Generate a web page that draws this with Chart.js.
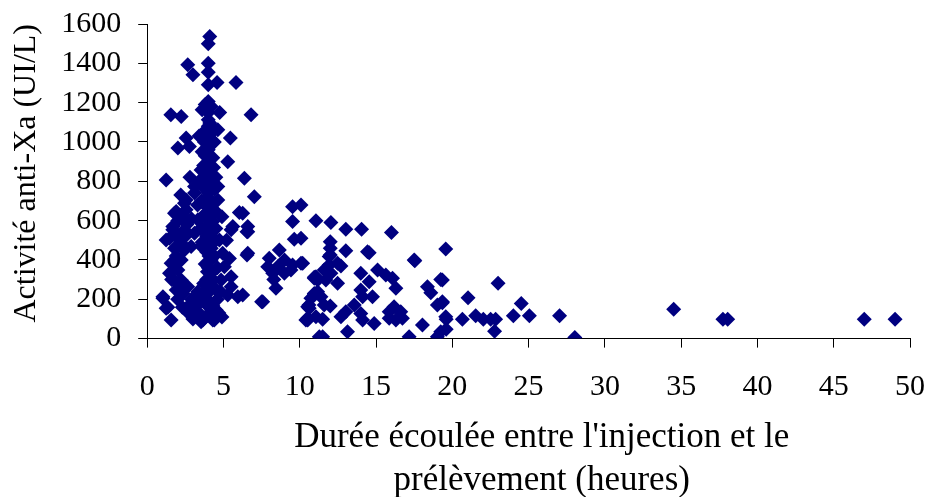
<!DOCTYPE html>
<html>
<head>
<meta charset="utf-8">
<script src="https://cdn.jsdelivr.net/npm/chart.js"></script>
<style>
  body { margin: 0; background: #fff; }
  #wrap { width: 928px; height: 497px; }
</style>
</head>
<body>
<div id="wrap"><canvas id="scatterChart"></canvas></div>
<script>
// time between injection and sampling (hours) / anti-Xa activity (UI/L)
const durationHours = [
  4.1, 4.0, 2.66, 4.0, 3.0, 4.0, 4.0, 4.58, 5.82, 4.0, 3.8, 4.2, 1.55, 2.23, 3.6, 4.75, 6.81, 4.0, 4.1, 4.3,
  3.86, 4.63, 4.0, 2.55, 5.45, 3.9, 4.2, 2.01, 2.77, 4.0, 3.8, 4.3, 5.28, 4.0, 3.53, 4.1, 3.9, 1.24, 6.37, 4.2,
  3.1, 4.63, 3.8, 4.0, 3.1, 7.02, 2.55, 4.63, 3.7, 4.2, 2.44, 3.9, 2.55, 1.9, 6.04, 1.79, 4.1, 3.6, 3.32, 4.3,
  4.0, 1.68, 5.61, 6.59, 3.8, 1.68, 5.5, 6.59, 3.1, 4.2, 2.44, 3.9, 1.46, 1.24, 2.12, 4.08, 4.73, 3.6, 2.88, 1.79,
  2.44, 4.2, 3.9, 4.95, 6.59, 6.54, 5.39, 2.23, 4.19, 1.57, 3.8, 5.06, 2.01, 4.0, 1.46, 4.19, 5.5,
  3.9, 2.23, 4.84, 2.66, 5.5, 4.1, 1.9, 3.32, 2.34, 5.28, 6.26, 1.03, 5.94, 1.03, 3.97, 7.5, 2.77, 1.24, 1.35, 3.1,
  4.52, 3.53, 4.4, 3.65, 1.57, 3.53, 4.3, 2.9, 3.7, 2.2, 4.6, 4.8, 2.7, 3.3, 4.9, 2.0, 4.3, 4.6, 2.5,
  2.0, 2.9, 4.9, 3.3, 2.2, 4.5, 3.4, 2.8, 4.4, 3.6, 4.5, 2.6, 1.9, 1.6, 5.2, 3.4, 6.26, 6.54,
  4.0, 4.0, 3.95, 4.05, 3.95, 4.05, 3.95, 4.05, 3.95, 4.05, 3.95, 4.05, 3.95, 4.05, 3.95, 4.05, 3.95, 3.75, 4.25, 3.7,
  4.35, 3.6, 4.4, 3.55, 4.45, 3.5, 4.5, 3.55, 4.4, 4.3, 3.7, 4.5, 3.4, 2.4, 2.0, 2.3, 1.8, 1.7, 3.2, 4.7,
  3.0, 2.3,
  7.9, 8.0, 8.23, 8.55, 8.66, 8.99, 9.42, 8.44, 9.53, 10.08, 9.53, 9.64, 10.08, 10.08, 11.06, 10.95, 10.95, 10.62, 10.52, 11.28,
  12.04, 13.02, 14.05, 16.01, 17.54, 12.0, 12.0, 12.0, 13.02, 14.55, 12.7, 10.19, 10.95, 11.6, 12.04, 11.71, 12.48, 11.17, 10.73, 10.52,
  10.52, 11.5, 12.0, 11.5, 12.7, 13.02, 13.13, 14.0, 14.55, 14.0, 14.12, 14.77, 13.57, 14.0, 14.12, 14.88, 15.1, 15.64, 16.08, 16.3,
  15.86, 16.18, 16.62, 16.73, 16.3, 15.86, 17.17, 18.04, 18.37, 18.59, 19.24, 19.02, 19.35, 19.57, 19.24, 19.02, 10.4, 11.06, 10.6, 19.57,
  9.0, 8.3, 7.57, 9.53, 11.06, 10.95, 11.39, 11.6, 11.93, 11.93, 12.48, 11.17, 14.44, 17.5,
  19.35, 19.35, 19.6, 19.6, 21.03, 20.66, 21.53, 22.03, 22.51, 22.84, 22.77, 23.0, 24.0, 24.52, 25.05, 27.03, 28.03,
  34.51, 37.74, 38.05, 47.0, 49.02
];
const antiXa = [
  1537, 1500, 1393, 1400, 1342, 1355, 1291, 1303, 1303, 1206, 1190, 1180, 1138, 1130, 1164, 1150, 1138, 1113, 1096, 1075,
  1062, 1062, 1040, 1020, 1020, 1010, 990, 969, 977, 960, 930, 920, 900, 890, 858, 860, 830, 807, 816, 800,
  773, 773, 760, 740, 740, 722, 705, 705, 700, 690, 689, 670, 655, 646, 641, 638, 640, 620, 604, 595,
  580, 570, 570, 570, 560, 553, 553, 544, 536, 540, 553, 520, 510, 502, 502, 502, 502, 490, 468, 459,
  451, 460, 440, 434, 434, 425, 408, 400, 400, 383, 380, 366, 349, 360, 332, 332, 315,
  300, 298, 298, 264, 264, 260, 247, 238, 230, 222, 222, 213, 213, 205, 196, 188, 171, 154, 160, 145,
  145, 120, 94, 94, 94, 86, 94, 200, 230, 270, 200, 240, 130, 110, 110, 200, 170, 360, 520,
  600, 610, 620, 680, 730, 820, 800, 820, 1000, 950, 500, 580, 420, 300, 500, 1030, 638, 544,
  1150, 1080, 1000, 920, 850, 780, 720, 650, 610, 530, 470, 420, 340, 280, 230, 160, 120, 1000, 1050, 880,
  870, 800, 760, 700, 650, 560, 560, 470, 420, 300, 280, 250, 180, 620, 520, 480, 400, 300, 200, 130,
  100, 160,
  366, 409, 332, 366, 451, 332, 349, 256, 671, 680, 595, 505, 383, 510, 600, 307, 222, 154, 103, 9,
  590, 556, 556, 539, 396, 493, 459, 425, 447, 437, 369, 383, 312, 349, 332, 298, 281, 238, 205, 162,
  94, 98, 166, 9, 111, 137, 35, 332, 289, 247, 213, 213, 171, 128, 94, 77, 349, 323, 307, 256,
  137, 162, 137, 103, 94, 103, 9, 69, 264, 233, 301, 171, 187, 111, 35, 9, 94, 111, 171, 456,
  400, 300, 188, 374, 315, 230, 213, 171, 417, 374, 383, 298, 442, 400,
  298, 182, 99, 48, 208, 98, 116, 98, 98, 98, 38, 281, 116, 179, 116, 116, 6,
  149, 98, 98, 98, 98
];
const xTicks = [0, 5, 10, 15, 20, 25, 30, 35, 40, 45, 50];
const yTicks = [0, 200, 400, 600, 800, 1000, 1200, 1400, 1600];

const points = durationHours.map((h, i) => ({ x: h, y: antiXa[i] }));

const serif = "'Liberation Serif', 'Times New Roman', serif";
const tickFont = { family: serif, size: 30, lineHeight: 1.2 };

new Chart(document.getElementById('scatterChart').getContext('2d'), {
  type: 'scatter',
  data: {
    datasets: [{
      data: points,
      pointStyle: 'rectRot',
      pointRadius: 7.5,
      backgroundColor: '#000080',
      borderWidth: 0
    }]
  },
  options: {
    responsive: true,
    maintainAspectRatio: false,
    animation: false,
    layout: { padding: { left: 0, right: 18, top: 24, bottom: 0 } },
    plugins: { legend: { display: false }, tooltip: { enabled: false } },
    scales: {
      x: {
        type: 'linear',
        min: 0, max: 50,
        afterBuildTicks: (axis) => { axis.ticks = xTicks.map(v => ({ value: v })); },
        afterFit: (axis) => { axis.paddingLeft = 0; axis.paddingRight = 0; },
        grid: { drawOnChartArea: false, drawTicks: true, tickLength: 9, color: '#000' },
        border: { display: true, color: '#000', width: 1 },
        ticks: { color: '#000', font: tickFont, padding: 22, maxRotation: 0, autoSkip: false, callback: v => String(v) },
        title: {
          display: true,
          text: ["   Durée écoulée entre l'injection et le", '   prélèvement (heures)'],
          color: '#000',
          font: { family: serif, size: 35, lineHeight: 1.22 },
          padding: { top: -11, bottom: -5 }
        }
      },
      y: {
        type: 'linear',
        min: 0, max: 1600,
        afterBuildTicks: (axis) => { axis.ticks = yTicks.map(v => ({ value: v })); },
        afterFit: (axis) => { axis.paddingTop = 0; axis.paddingBottom = 0; },
        grid: { drawOnChartArea: false, drawTicks: true, tickLength: 9, color: '#000' },
        border: { display: true, color: '#000', width: 1 },
        ticks: { color: '#000', font: tickFont, padding: 17, autoSkip: false, callback: v => String(v) },
        title: {
          display: true,
          text: '  Activité anti-Xa (UI/L)',
          color: '#000',
          font: { family: serif, size: 32, lineHeight: 1.2 },
          padding: { top: 7.8, bottom: -2 }
        }
      }
    }
  }
});
</script>
</body>
</html>
